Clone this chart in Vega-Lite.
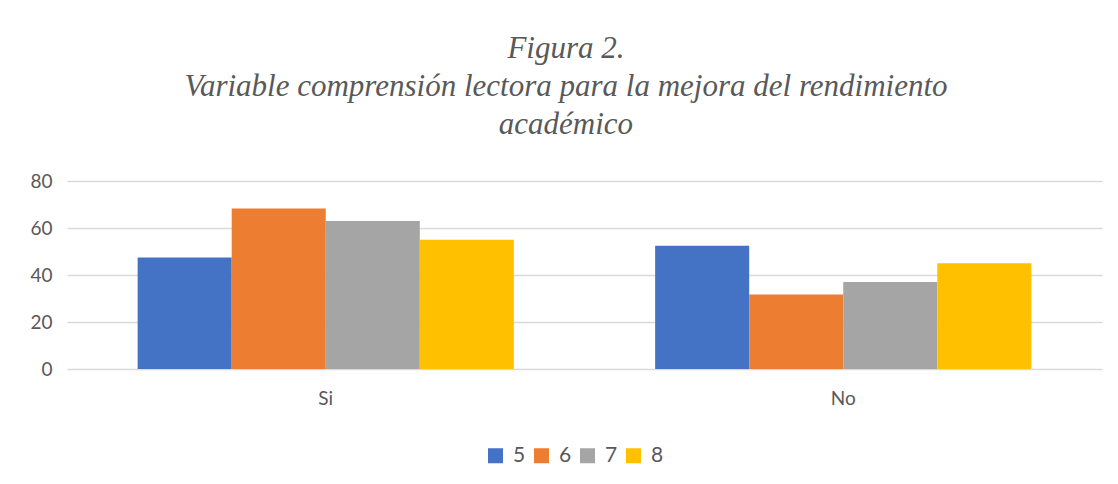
{
  "$schema": "https://vega.github.io/schema/vega-lite/v6.json",
  "autosize": {"type": "none"},
  "padding": {"left": 67, "top": 181, "right": 16, "bottom": 115},
  "width": 1035,
  "height": 188,
  "background": "white",
  "title": {
    "text": ["Figura 2.", "Variable comprensión lectora para la mejora del rendimiento", "académico"],
    "font": "Liberation Serif, Times New Roman, DejaVu Serif, serif",
    "fontStyle": "italic",
    "fontWeight": "normal",
    "fontSize": 31,
    "lineHeight": 38,
    "color": "#595959",
    "anchor": "middle",
    "frame": "bounds",
    "baseline": "alphabetic",
    "offset": 7
  },
  "data": {
    "values": [
      {"cat": "Si", "serie": "5", "valor": 47.5},
      {"cat": "Si", "serie": "6", "valor": 68.3},
      {"cat": "Si", "serie": "7", "valor": 63.0},
      {"cat": "Si", "serie": "8", "valor": 55.0},
      {"cat": "No", "serie": "5", "valor": 52.5},
      {"cat": "No", "serie": "6", "valor": 31.7},
      {"cat": "No", "serie": "7", "valor": 37.0},
      {"cat": "No", "serie": "8", "valor": 45.0}
    ]
  },
  "mark": {"type": "bar"},
  "encoding": {
    "x": {
      "field": "cat",
      "type": "nominal",
      "sort": ["Si", "No"],
      "scale": {"paddingInner": 0.273, "paddingOuter": 0.1365},
      "axis": {
        "title": null,
        "labelAngle": 0,
        "domain": false,
        "ticks": false,
        "labelPadding": 20,
        "labelFont": "Lato",
        "labelFontSize": 19,
        "labelColor": "#595959"
      }
    },
    "xOffset": {"field": "serie", "type": "nominal", "sort": ["5", "6", "7", "8"], "scale": {"paddingInner": 0, "paddingOuter": 0}},
    "y": {
      "field": "valor",
      "type": "quantitative",
      "scale": {"domain": [0, 80], "nice": false},
      "axis": {
        "title": null,
        "values": [0, 20, 40, 60, 80],
        "domain": false,
        "ticks": false,
        "labelPadding": 15,
        "labelFont": "Lato",
        "labelFontSize": 19,
        "labelColor": "#595959",
        "gridColor": "#D9D9D9",
        "gridWidth": 1.5
      }
    },
    "color": {
      "field": "serie",
      "type": "nominal",
      "sort": ["5", "6", "7", "8"],
      "scale": {"domain": ["5", "6", "7", "8"], "range": ["#4472C4", "#ED7D31", "#A5A5A5", "#FFC000"]},
      "legend": {
        "title": null,
        "orient": "none",
        "direction": "horizontal",
        "legendX": 418,
        "legendY": 264,
        "symbolType": "square",
        "symbolSize": 225,
        "symbolStrokeWidth": 0,
        "symbolOpacity": 1,
        "labelFont": "Lato",
        "labelFontSize": 21,
        "labelColor": "#595959",
        "labelOffset": 7,
        "columnPadding": 5
      }
    }
  },
  "config": {
    "view": {"stroke": null}
  }
}
